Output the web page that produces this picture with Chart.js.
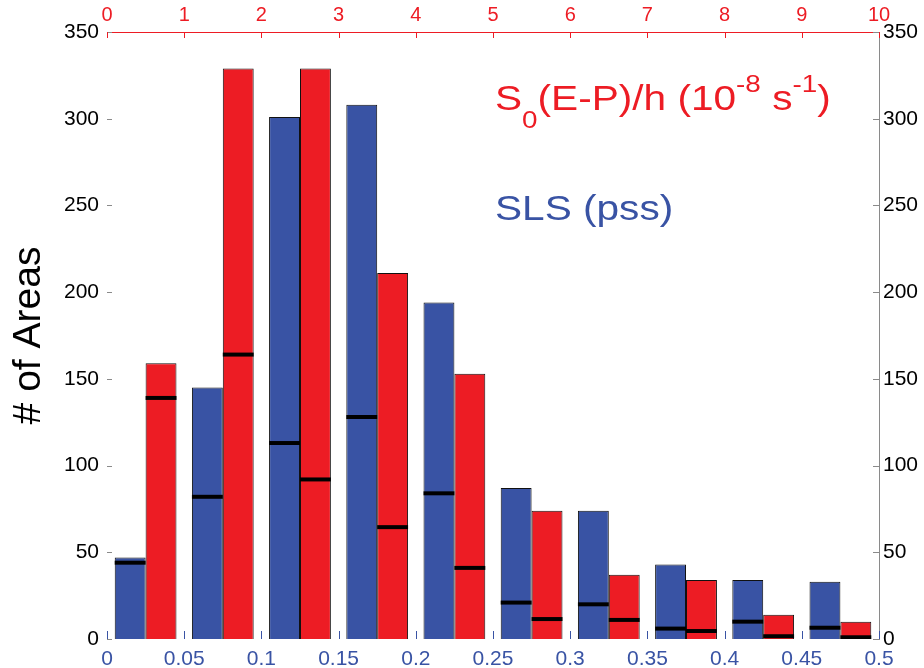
<!DOCTYPE html>
<html>
<head>
<meta charset="utf-8">
<script src="https://cdn.jsdelivr.net/npm/chart.js@4"></script>
<style>
  body { margin: 0; background: #fff; }
  #wrap { width: 924px; height: 668px; }
</style>
</head>
<body>
<div id="wrap"><canvas id="histChart"></canvas></div>
<script>
// bins (10 per axis) and counts
const bins = ['1', '2', '3', '4', '5', '6', '7', '8', '9', '10'];
const slsCounts = [47, 145, 301, 308, 194, 87, 74, 43, 34, 33];
const slsMarks = [44, 82, 113, 128, 84, 21, 20, 6, 10, 6.5];
const epCounts = [159, 329, 329, 211, 153, 74, 37, 34, 14, 10];
const epMarks = [139, 164, 92, 64.5, 41, 11.5, 11, 4.6, 1.6, 1];

const BLUE = '#3953a4';
const RED = '#ed1c24';
const markHalf = 1.15; // half thickness of the black marks, in count units

function markBars(vals) {
    return vals.map(v => [Math.max(0, v - markHalf), v + markHalf]);
}

// MATLAB style ticks pointing into the axes box
const inwardTicks = {
    id: 'inwardTicks',
    afterDatasetsDraw(chart) {
        const ctx = chart.ctx;
        const area = chart.chartArea;
        const sets = [
            { id: 'y', color: '#8a8a8a', len: 5 },
            { id: 'yr', color: '#8a8a8a', len: 6 },
            { id: 'xt', color: RED, len: 6 },
            { id: 'xb', color: BLUE, len: 8 }
        ];
        ctx.save();
        ctx.lineWidth = 1;
        sets.forEach(s => {
            const sc = chart.scales[s.id];
            ctx.strokeStyle = s.color;
            sc.ticks.forEach(t => {
                const p = Math.round(sc.getPixelForValue(t.value)) + 0.5;
                ctx.beginPath();
                if (s.id === 'y') { ctx.moveTo(area.left, p); ctx.lineTo(area.left + s.len, p); }
                if (s.id === 'yr') { ctx.moveTo(area.right, p); ctx.lineTo(area.right - s.len, p); }
                if (s.id === 'xt') { ctx.moveTo(p, area.top); ctx.lineTo(p, area.top + s.len); }
                if (s.id === 'xb') { ctx.moveTo(p, area.bottom); ctx.lineTo(p, area.bottom - s.len); }
                ctx.stroke();
            });
        });
        ctx.restore();
    }
};

// the two in-plot labels, with sub/superscripts
const seriesLabels = {
    id: 'seriesLabels',
    afterDraw(chart) {
        const ctx = chart.ctx;
        const big = '35px "Liberation Sans", Arial, sans-serif';
        const small = '24px "Liberation Sans", Arial, sans-serif';
        const parts = [
            ['S', big, 0], ['0', small, 18], ['(E-P)/h (10', big, 0],
            ['-8', small, -18], [' s', big, 0], ['-1', small, -18], [')', big, 0]
        ];
        ctx.save();
        ctx.textBaseline = 'alphabetic';
        ctx.translate(495, 110);
        ctx.scale(1.16, 1);
        ctx.fillStyle = RED;
        let x = 0;
        parts.forEach(([txt, font, dy]) => {
            ctx.font = font;
            ctx.fillText(txt, x, dy);
            x += ctx.measureText(txt).width;
        });
        ctx.restore();

        ctx.save();
        ctx.translate(495, 220);
        ctx.scale(1.16, 1);
        ctx.fillStyle = BLUE;
        ctx.font = big;
        ctx.fillText('SLS (pss)', 0, 0);
        ctx.restore();
    }
};

Chart.defaults.font.family = '"Liberation Sans", Arial, sans-serif';
Chart.defaults.color = '#000';

const ctx = document.getElementById('histChart').getContext('2d');
new Chart(ctx, {
    type: 'bar',
    data: {
        labels: bins,
        datasets: [
            { data: markBars(slsMarks), stack: 'sls', order: -1, backgroundColor: '#000', borderWidth: 0 },
            { data: markBars(epMarks), stack: 'ep', order: -1, backgroundColor: '#000', borderWidth: 0 },
            { data: slsCounts, stack: 'sls', backgroundColor: BLUE, borderColor: '#111', borderWidth: 1 },
            { data: epCounts, stack: 'ep', backgroundColor: RED, borderColor: '#111', borderWidth: 1 }
        ]
    },
    options: {
        responsive: true,
        maintainAspectRatio: false,
        animation: false,
        layout: { padding: 0 },
        datasets: {
            bar: { categoryPercentage: 0.8, barPercentage: 1.0 }
        },
        plugins: {
            legend: { display: false },
            tooltip: { enabled: false }
        },
        scales: {
            x: { type: 'category', display: false, offset: true },
            xb: {
                type: 'linear', position: 'bottom', min: 0, max: 0.5, offset: false,
                afterFit(s) { s.height = 29; },
                ticks: {
                    stepSize: 0.05, color: BLUE, font: { size: 21 }, padding: 8, maxRotation: 0, autoSkip: false,
                    callback: v => String(+v.toFixed(2))
                },
                grid: { display: false, drawTicks: false, offset: false },
                border: { display: false }
            },
            xt: {
                type: 'linear', position: 'top', min: 0, max: 10, offset: false,
                afterFit(s) { s.height = 32; },
                ticks: { stepSize: 1, color: RED, font: { size: 20 }, padding: 5, maxRotation: 0, autoSkip: false },
                grid: { display: false, drawTicks: false, offset: false },
                border: { display: true, color: RED, width: 1 }
            },
            y: {
                position: 'left', min: 0, max: 350, stacked: false,
                afterFit(s) { s.width = 107; },
                ticks: { stepSize: 50, color: '#000', font: { size: 21 }, padding: 8 },
                grid: { display: false, drawTicks: false },
                border: { display: false },
                title: { display: true, text: '# of Areas', font: { size: 39 }, color: '#000', padding: { top: 6, bottom: 0 } }
            },
            yr: {
                position: 'right', min: 0, max: 350,
                afterFit(s) { s.width = 45; },
                ticks: { stepSize: 50, color: '#000', font: { size: 21 }, padding: 4 },
                grid: { display: false, drawTicks: false },
                border: { display: true, color: '#8a8a8a', width: 1 }
            }
        }
    },
    plugins: [inwardTicks, seriesLabels]
});
</script>
</body>
</html>
